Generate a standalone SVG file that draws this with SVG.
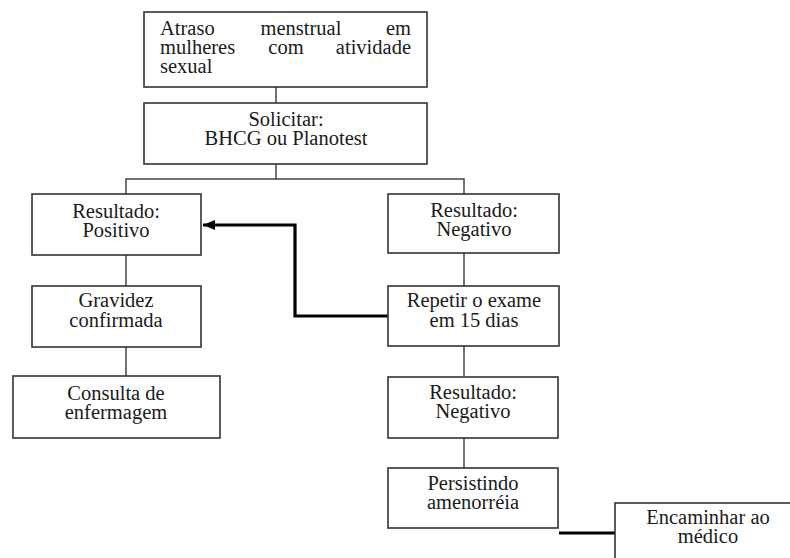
<svg xmlns="http://www.w3.org/2000/svg" width="790" height="558" viewBox="0 0 790 558">
<defs>
<style>
.box{fill:#fff;stroke:#333;stroke-width:1.6}
.ln{fill:none;stroke:#444;stroke-width:1.5}
.thick{fill:none;stroke:#000;stroke-width:3.2}
.t{font-family:"Liberation Serif","DejaVu Serif",serif;font-size:20.5px;fill:#1a1a1a}
.c{text-anchor:middle}
</style>
<marker id="ah" markerWidth="12" markerHeight="10" refX="12" refY="5" orient="auto" markerUnits="userSpaceOnUse">
<path d="M0,0 L12,5 L0,10 Z" fill="#000"/>
</marker>
</defs>
<rect width="790" height="558" fill="#fff"/>
<g id="connectors">
<line class="ln" x1="276" y1="87" x2="276" y2="103"/>
<polyline class="ln" points="126,194 126,179 464,179 464,194"/>
<line class="ln" x1="276" y1="164" x2="276" y2="179"/>
<line class="ln" x1="126" y1="255" x2="126" y2="286"/>
<line class="ln" x1="126" y1="347" x2="126" y2="376"/>
<line class="ln" x1="464" y1="253" x2="464" y2="286"/>
<line class="ln" x1="464" y1="346" x2="464" y2="377"/>
<line class="ln" x1="464" y1="438" x2="464" y2="468"/>
<polyline class="thick" points="388,316 295,316 295,225 203,225" marker-end="url(#ah)"/>
<line class="thick" x1="559" y1="533" x2="615" y2="533"/>
</g>
<g class="t" font-family="Liberation Serif, DejaVu Serif, serif">
<g id="n1">
<rect class="box" x="144" y="12" width="283" height="75"/>
<text x="160" y="35">Atraso</text><text x="301" y="35" class="c">menstrual</text><text x="411" y="35" text-anchor="end">em</text>
<text x="160" y="54">mulheres</text><text x="286" y="54" class="c">com</text><text x="411" y="54" text-anchor="end">atividade</text>
<text x="160" y="73">sexual</text>
</g>
<g id="n2">
<rect class="box" x="144" y="103" width="283" height="61"/>
<text x="286" y="126" class="c">Solicitar:</text>
<text x="286" y="145" class="c">BHCG ou Planotest</text>
</g>
<g id="n3">
<rect class="box" x="32" y="194" width="169" height="61"/>
<text x="116" y="218" class="c">Resultado:</text>
<text x="116" y="237" class="c">Positivo</text>
</g>
<g id="n4">
<rect class="box" x="32" y="286" width="169" height="61"/>
<text x="116" y="307" class="c">Gravidez</text>
<text x="116" y="327" class="c">confirmada</text>
</g>
<g id="n5">
<rect class="box" x="13" y="376" width="207" height="62"/>
<text x="116" y="400" class="c">Consulta de</text>
<text x="116" y="419" class="c">enfermagem</text>
</g>
<g id="n6">
<rect class="box" x="388" y="194" width="171" height="59"/>
<text x="474" y="217" class="c">Resultado:</text>
<text x="474" y="236" class="c">Negativo</text>
</g>
<g id="n7">
<rect class="box" x="388" y="286" width="171" height="60"/>
<text x="474" y="307" class="c">Repetir o exame</text>
<text x="474" y="327" class="c">em 15 dias</text>
</g>
<g id="n8">
<rect class="box" x="388" y="377" width="170" height="61"/>
<text x="473" y="399" class="c">Resultado:</text>
<text x="473" y="418" class="c">Negativo</text>
</g>
<g id="n9">
<rect class="box" x="388" y="468" width="170" height="60"/>
<text x="473" y="490" class="c">Persistindo</text>
<text x="473" y="509" class="c">amenorréia</text>
</g>
<g id="n10">
<rect class="box" x="615" y="503" width="200" height="70"/>
<text x="708" y="524" class="c">Encaminhar ao</text>
<text x="708" y="543" class="c">médico</text>
</g>
</g>
</svg>
